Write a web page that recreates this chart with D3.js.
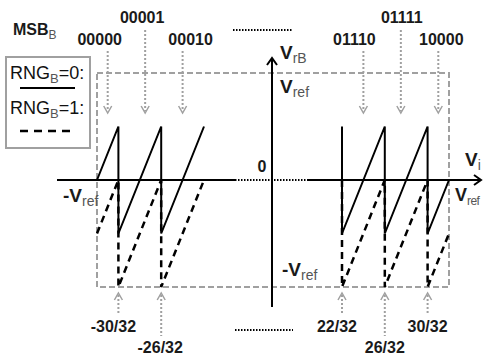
<!DOCTYPE html>
<html>
<head>
<meta charset="utf-8">
<script src="https://cdn.jsdelivr.net/npm/d3@7"></script>
<style>
  body { margin: 0; background: #fff; }
  svg { display: block; font-family: "Liberation Sans", Arial, sans-serif; }
  .lbl { font-weight: bold; fill: #1a1a1a; }
  .sub { font-weight: normal; fill: #555; }
  .leg { font-weight: normal; fill: #111; }
</style>
</head>
<body>
<svg id="chart" width="483" height="356"></svg>
<script>
// sawtooth vertices, [Vi in 1/32 units, VrB in Vref units]
const solidLeft  = [[-32, 0], [-30, 0.5], [-30, -0.5], [-26, 0.5], [-26, -0.5], [-22, 0.5]];
const dashLeft   = [[-32, -0.5], [-30, 0], [-30, -1], [-26, 0], [-26, -1], [-22, 0]];
const solidRight = [[22, 0.5], [22, -0.5], [26, 0.5], [26, -0.5], [30, 0.5], [30, -0.5], [32, 0]];
const dashRight  = [[22, 0], [22, -1], [26, 0], [26, -1], [30, 0], [30, -1], [32, -0.5]];

// MSB codes on top, with the input they point at
const codesLeft   = ["00000", "00001", "00010"];
const codesLeftX  = [-31, -27.5, -24];
const codesRight  = ["01110", "01111", "10000"];
const codesRightX = [24, 27.5, 31];

// thresholds marked at the bottom
const ticksLeft   = [-30, -26];
const ticksRight  = [22, 26, 30];
const tickLabelsLeft  = ["-30/32", "-26/32"];
const tickLabelsRight = ["22/32", "26/32", "30/32"];

const svg = d3.select("#chart");
const gray = "#a0a0a0";

// broken x axis: two pieces of the same scale
const xL = d3.scaleLinear().domain([-32, -22]).range([97, 204]);
const xR = d3.scaleLinear().domain([22, 32]).range([342, 449]);
const y  = d3.scaleLinear().domain([-1, 1]).range([287, 73]);
const yAxisX = 272;

// gray dashed frame (-Vref..Vref both ways)
svg.append("rect")
  .attr("x", xL(-32)).attr("y", y(1))
  .attr("width", xR(32) - xL(-32)).attr("height", y(-1) - y(1))
  .attr("fill", "none").attr("stroke", gray)
  .attr("stroke-width", 2).attr("stroke-dasharray", "6,3");

function lineFor(xs) {
  return d3.line().x(d => xs(d[0])).y(d => y(d[1]));
}

function drawSaw(data, xs, dashed) {
  svg.append("path")
    .attr("d", lineFor(xs)(data))
    .attr("fill", "none").attr("stroke", "#000")
    .attr("stroke-width", dashed ? 2.5 : 2)
    .attr("stroke-dasharray", dashed ? "7,5" : null);
}
drawSaw(dashLeft, xL, true);
drawSaw(dashRight, xR, true);
drawSaw(solidLeft, xL, false);
drawSaw(solidRight, xR, false);

// axes
const y0 = y(0);
function seg(x1, y1, x2, y2, stroke, w, dash) {
  return svg.append("line")
    .attr("x1", x1).attr("y1", y1).attr("x2", x2).attr("y2", y2)
    .attr("stroke", stroke).attr("stroke-width", w)
    .attr("stroke-dasharray", dash || null);
}
seg(57, y0, 235, y0, "#000", 2);
seg(235, y0, 308, y0, "#000", 2, "1.5,1.5");
seg(308, y0, 480, y0, "#000", 2);
svg.append("path").attr("d", `M${474},${y0 - 5}L${481},${y0}L${474},${y0 + 5}`)
  .attr("fill", "none").attr("stroke", "#000").attr("stroke-width", 2);
seg(yAxisX, 307, yAxisX, 59, "#000", 2);
svg.append("path").attr("d", `M${yAxisX - 5},${65}L${yAxisX},${58}L${yAxisX + 5},${65}`)
  .attr("fill", "none").attr("stroke", "#000").attr("stroke-width", 2);

// dotted gaps in the label rows
seg(233, 30, 293, 30, "#000", 2, "1.5,1.5");
seg(235, 330, 293, 330, "#000", 2, "1.5,1.5");

// text helper with subscript
function label(x, yb, main, sub, size, anchor, cls, subSize) {
  const t = svg.append("text").attr("class", cls || "lbl")
    .attr("x", x).attr("y", yb)
    .attr("font-size", size)
    .attr("text-anchor", anchor || "start");
  t.append("tspan").text(main);
  if (sub) {
    t.append("tspan").attr("class", "sub")
      .attr("font-size", subSize || Math.round(size * 0.72))
      .attr("dy", 4).text(sub);
  }
  return t;
}

// top code arrows
const codeDxL = [-8, -3, 8];
const codeDxR = [-9, 1, 3];
function topCodes(codes, xs, pos, dx) {
  codes.forEach((c, i) => {
    const px = xs(pos[i]);
    const upper = i % 2 === 1;
    label(px + dx[i], upper ? 23 : 45, c, null, 16, "middle");
    seg(px, upper ? 30 : 51, px, 111, gray, 2, "2,2");
    svg.append("path").attr("d", `M${px - 4},${106}L${px},${113}L${px + 4},${106}`)
      .attr("fill", "none").attr("stroke", gray).attr("stroke-width", 1.5);
  });
}
topCodes(codesLeft, xL, codesLeftX, codeDxL);
topCodes(codesRight, xR, codesRightX, codeDxR);

// bottom threshold arrows
const tickDxL = [-5, -1];
const tickDxR = [-5, 0, 0];
function bottomTicks(ticks, labels, xs, dx) {
  ticks.forEach((v, i) => {
    const px = xs(v);
    const deep = i % 2 === 1;
    seg(px, 295, px, deep ? 336 : 314, gray, 2, "2,2");
    svg.append("path").attr("d", `M${px - 4},${300}L${px},${293}L${px + 4},${300}`)
      .attr("fill", "none").attr("stroke", gray).attr("stroke-width", 1.5);
    label(px + dx[i], deep ? 353 : 332, labels[i], null, 16, "middle");
  });
}
bottomTicks(ticksLeft, tickLabelsLeft, xL, tickDxL);
bottomTicks(ticksRight, tickLabelsRight, xR, tickDxR);

// axis labels
label(13, 35, "MSB", "B", 16);
label(280, 59, "V", "rB", 19);
label(280, 93, "V", "ref", 19);
label(262, 172, "0", null, 16, "middle");
label(465, 166, "V", "i", 19);
label(455, 201, "V", "ref", 18, "start", "lbl", 12).select(".sub").attr("letter-spacing", -0.6);
label(63, 202, "-V", "ref", 19);
label(282, 276, "-V", "ref", 19);

// legend
svg.append("rect").attr("x", 6).attr("y", 57).attr("width", 84).attr("height", 91)
  .attr("fill", "#fff").attr("stroke", gray).attr("stroke-width", 2);
const leg = label(10, 79, "RNG", "B", 18, "start", "leg");
leg.append("tspan").attr("dy", -4).text("=0:");
seg(20, 88, 75, 88, "#000", 2);
const leg2 = label(10, 114, "RNG", "B", 18, "start", "leg");
leg2.append("tspan").attr("dy", -4).text("=1:");
seg(20, 131, 75, 131, "#000", 2.5, "8,6");
</script>
</body>
</html>
